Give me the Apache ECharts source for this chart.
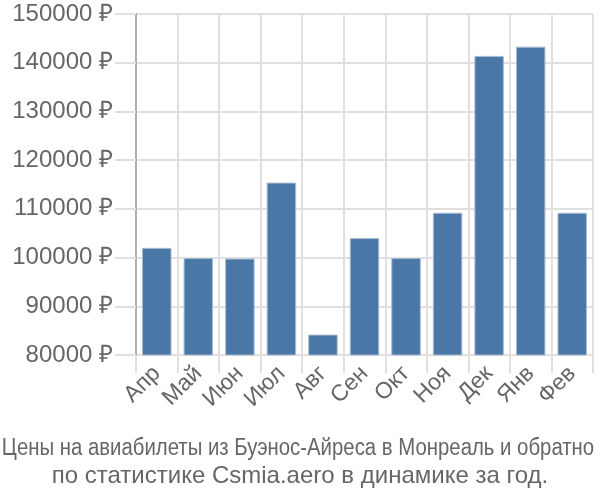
<!DOCTYPE html>
<html><head><meta charset="utf-8">
<script src="https://cdn.jsdelivr.net/npm/echarts@6/dist/echarts.min.js"></script>
<style>html,body{margin:0;padding:0;background:#fff}#c{width:600px;height:500px}</style>
</head><body><div id="c"></div>
<script>
var categories = ['Апр','Май','Июн','Июл','Авг','Сен','Окт','Ноя','Дек','Янв','Фев'];
var prices = [102000, 99900, 99800, 115400, 84200, 104000, 99900, 109200, 141400, 143300, 109200];
var yMin = 80000, yMax = 150000, yStep = 10000;
var titleLine1 = 'Цены на авиабилеты из Буэнос-Айреса в Монреаль и обратно';
var titleLine2 = 'по статистике Csmia.aero в динамике за год.';

var chart = echarts.init(document.getElementById('c'), null, {renderer:'canvas'});
var font = '"Liberation Sans", Arial, sans-serif';
chart.setOption({
  animation: false,
  textStyle: {fontFamily: font},
  grid: {left: 136, right: 7, top: 14, bottom: 145, containLabel: false},
  xAxis: {
    type: 'category', data: categories,
    axisLine: {show: true, lineStyle: {color: '#e0e0e0', width: 1}},
    axisTick: {show: true, length: 18, lineStyle: {color: '#e0e0e0', width: 2}},
    splitLine: {show: true, lineStyle: {color: '#e0e0e0', width: 2}},
    axisLabel: {rotate: 45, fontSize: 23, color: '#666', margin: 15, fontFamily: font, interval: 0}
  },
  yAxis: {
    type: 'value', min: yMin, max: yMax, interval: yStep,
    axisLine: {show: true, lineStyle: {color: '#b0b0b0', width: 2}},
    axisTick: {show: true, length: 21, lineStyle: {color: '#e0e0e0', width: 2}},
    splitLine: {show: true, lineStyle: {color: '#e0e0e0', width: 2}},
    axisLabel: {fontSize: 24, color: '#666', margin: 23, fontFamily: font,
      formatter: function(v){ return v + ' ₽'; }}
  },
  series: [{
    type: 'bar', data: prices, barCategoryGap: '29%',
    itemStyle: {color: '#4a77a6', borderColor: '#a9bdd6', borderWidth: 1}
  }],
  graphic: [
    {type: 'text', x: 298, y: 449, scaleX: 0.885, silent: true,
      style: {text: titleLine1, fill: '#666', font: '23px "Liberation Sans Narrow", ' + font, textAlign: 'center', textVerticalAlign: 'middle'}},
    {type: 'text', x: 300, y: 476, silent: true,
      style: {text: titleLine2, fill: '#666', font: '24px ' + font, textAlign: 'center', textVerticalAlign: 'middle'}}
  ]
});
</script></body></html>
